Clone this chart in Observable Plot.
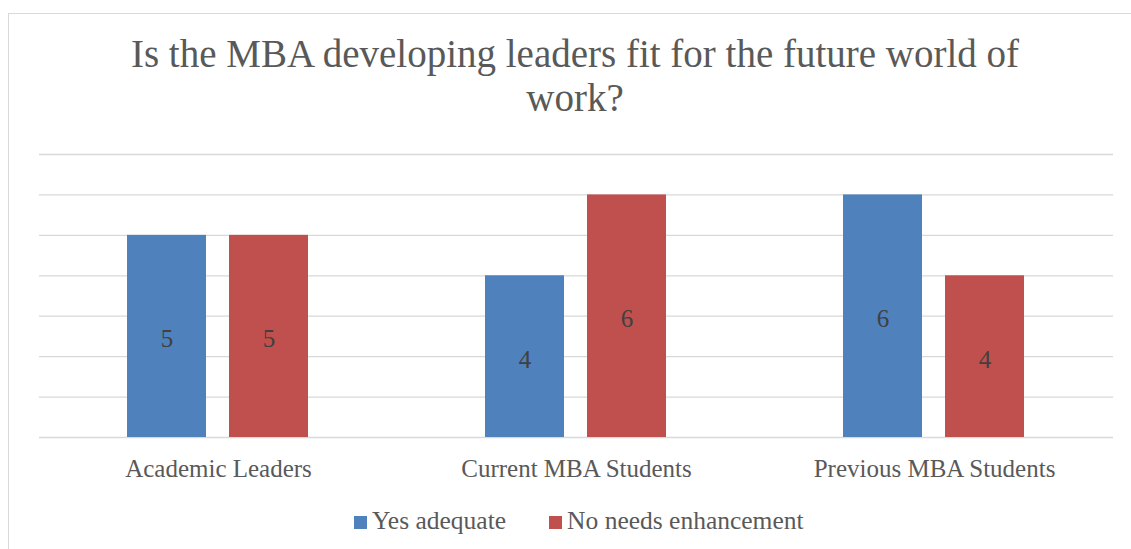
<!DOCTYPE html>
<html>
<head>
<meta charset="utf-8">
<script src="https://cdn.jsdelivr.net/npm/d3@7"></script>
<script src="https://cdn.jsdelivr.net/npm/@observablehq/plot@0.6"></script>
<style>
  html, body { margin: 0; padding: 0; background: #fff; overflow: hidden; }
  body { width: 1131px; height: 549px; position: relative; font-family: "Liberation Serif", serif; }
  #frame { position: absolute; left: 8px; top: 13px; width: 1300px; height: 700px; border: 1px solid #d9d9d9; box-sizing: border-box; }
  #title { position: absolute; left: 75px; width: 1000px; top: 32px; text-align: center; font-size: 39px; line-height: 44px; color: #595959; }
  #chart { position: absolute; left: 0; top: 135px; }
  #legend { position: absolute; left: 354px; top: 506px; display: flex; font-size: 25.5px; color: #595959; line-height: 30px; white-space: nowrap; }
  .item { display: flex; align-items: center; margin-right: 43px; }
  .sw { width: 13px; height: 13px; margin-right: 5px; margin-top: 2px; }
</style>
</head>
<body>
<div id="frame"></div>
<div id="title">Is the MBA developing leaders fit for the future world of<br>work?</div>
<div id="chart"></div>
<div id="legend"></div>
<script>
const categories = ["Academic Leaders", "Current MBA Students", "Previous MBA Students"];
const seriesNames = ["Yes adequate", "No needs enhancement"];
const yesValues = [5, 4, 6];
const noValues = [5, 6, 4];
const gridTicks = [0, 1, 2, 3, 4, 5, 6, 7];
const seriesColors = ["#4F81BD", "#C0504D"];

const rows = [];
categories.forEach((c, i) => {
  rows.push({category: c, series: seriesNames[0], value: yesValues[i]});
  rows.push({category: c, series: seriesNames[1], value: noValues[i]});
});

const chart = Plot.plot({
  width: 1131,
  height: 355,
  marginTop: 19,
  marginBottom: 53,
  marginLeft: 38,
  marginRight: 18,
  style: {fontFamily: "'Liberation Serif', serif", background: "transparent"},
  fx: {domain: categories, padding: 0, label: null},
  x: {domain: seriesNames, paddingInner: 0.2233, paddingOuter: 0.851, axis: null},
  y: {domain: [0, 7], axis: null},
  color: {domain: seriesNames, range: seriesColors},
  marks: [
    Plot.ruleY(gridTicks, {stroke: "#d9d9d9", strokeWidth: 1.3}),
    Plot.barY(rows, {fx: "category", x: "series", y: "value", fill: "series"}),
    Plot.text(rows, {fx: "category", x: "series", y: d => d.value / 2, text: d => String(d.value), fill: "#404040", fontSize: 25, dy: 3}),
    Plot.axisFx({anchor: "bottom", tickSize: 0, tickPadding: 22, fontSize: 25, fill: "#595959", label: null})
  ]
});
document.getElementById("chart").appendChild(chart);

const legend = document.getElementById("legend");
seriesNames.forEach((s, i) => {
  const item = document.createElement("div");
  item.className = "item";
  const sw = document.createElement("div");
  sw.className = "sw";
  sw.style.background = seriesColors[i];
  const t = document.createElement("span");
  t.textContent = s;
  item.appendChild(sw);
  item.appendChild(t);
  legend.appendChild(item);
});
</script>
</body>
</html>
